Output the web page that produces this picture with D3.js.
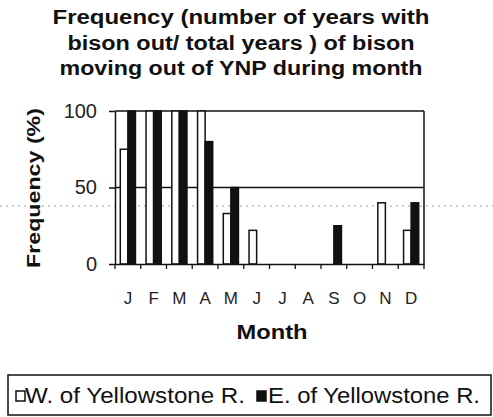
<!DOCTYPE html>
<html>
<head>
<meta charset="utf-8">
<script src="https://cdn.jsdelivr.net/npm/d3@7/dist/d3.min.js"></script>
<style>
  body { margin: 0; background: #fff; }
  svg { display: block; font-family: "Liberation Sans", Arial, sans-serif; }
</style>
</head>
<body>
<div id="chart"></div>
<script>
"use strict";

// data
var months = ["J", "F", "M", "A", "M", "J", "J", "A", "S", "O", "N", "D"];
var westValues = [75, 100, 100, 100, 33, 22, 0, 0, 0, 0, 40, 22];
var eastValues = [100, 100, 100, 80, 50, 0, 0, 0, 25, 0, 0, 40];
var seriesNames = ["W. of Yellowstone R.", "E. of Yellowstone R."];
var yTicks = [0, 50, 100];
var titleLines = [
  "Frequency (number of years with",
  "bison out/ total years ) of bison",
  "moving out of YNP during month"
];

var width = 493, height = 417;
var plot = { left: 115, right: 424, top: 111, bottom: 264 };

var svg = d3.select("#chart").append("svg")
  .attr("width", width)
  .attr("height", height);

// index months so the two J's etc. stay distinct
var x = d3.scaleBand()
  .domain(d3.range(months.length))
  .range([plot.left, plot.right])
  .padding(0);

var xSeries = d3.scaleBand()
  .domain([0, 1])
  .range([0, x.bandwidth()])
  .paddingInner(0)
  .paddingOuter(0.7);

var y = d3.scaleLinear()
  .domain([0, 100])
  .range([plot.bottom, plot.top]);

// scan artefact: faint dotted line across the page
svg.append("line")
  .attr("x1", 0).attr("x2", width)
  .attr("y1", 206).attr("y2", 206)
  .attr("stroke", "#9a9a9a")
  .attr("stroke-width", 1)
  .attr("stroke-dasharray", "2,4");

// title
svg.append("g").selectAll("text")
  .data(titleLines)
  .join("text")
  .attr("x", 241)
  .attr("y", function(d, i) { return [24, 50, 75][i]; })
  .attr("text-anchor", "middle")
  .attr("font-size", 20)
  .attr("font-weight", "bold")
  .attr("fill", "#111")
  .attr("textLength", function(d, i) { return [377, 347, 363][i]; })
  .attr("lengthAdjust", "spacingAndGlyphs")
  .text(function(d) { return d; });

// gridlines (50 and 100)
svg.append("g").selectAll("line")
  .data([50, 100])
  .join("line")
  .attr("x1", plot.left).attr("x2", plot.right)
  .attr("y1", function(d) { return y(d); })
  .attr("y2", function(d) { return y(d); })
  .attr("stroke", "#111")
  .attr("stroke-width", 1.5);

// right border of plot area
svg.append("line")
  .attr("x1", plot.right).attr("x2", plot.right)
  .attr("y1", plot.top).attr("y2", plot.bottom)
  .attr("stroke", "#111")
  .attr("stroke-width", 1.5);

// bars
var rows = months.map(function(m, i) {
  return { i: i, values: [westValues[i], eastValues[i]] };
});

var groups = svg.append("g").selectAll("g")
  .data(rows)
  .join("g")
  .attr("transform", function(d) { return "translate(" + x(d.i) + ",0)"; });

groups.selectAll("rect")
  .data(function(d) {
    return d.values.map(function(v, s) { return { s: s, v: v }; })
      .filter(function(e) { return e.v > 0; });
  })
  .join("rect")
  .attr("x", function(d) { return xSeries(d.s); })
  .attr("width", xSeries.bandwidth())
  .attr("y", function(d) { return y(d.v); })
  .attr("height", function(d) { return y(0) - y(d.v); })
  .attr("fill", function(d) { return d.s === 0 ? "#fff" : "#111"; })
  .attr("stroke", "#111")
  .attr("stroke-width", 1.5);

// y axis
var yAxis = svg.append("g")
  .attr("transform", "translate(" + plot.left + ",0)")
  .call(d3.axisLeft(y).tickValues(yTicks).tickSize(6).tickPadding(12).tickSizeOuter(0));
yAxis.select(".domain").attr("stroke", "#111").attr("stroke-width", 1.5);
yAxis.selectAll(".tick line").attr("stroke", "#111").attr("stroke-width", 1.5);
yAxis.selectAll(".tick text")
  .attr("font-size", 20)
  .attr("fill", "#222")
  .attr("font-family", "Liberation Sans, Arial, sans-serif");

// x axis: labels centred, ticks on band boundaries
var xAxis = svg.append("g")
  .attr("transform", "translate(0," + plot.bottom + ")")
  .call(d3.axisBottom(x).tickSize(0).tickPadding(28).tickFormat(function(i) { return months[i]; }));
xAxis.select(".domain").attr("stroke", "#111").attr("stroke-width", 1.5);
xAxis.selectAll(".tick text")
  .attr("font-size", 17)
  .attr("fill", "#222")
  .attr("font-family", "Liberation Sans, Arial, sans-serif");

svg.append("g").selectAll("line")
  .data(d3.range(months.length + 1))
  .join("line")
  .attr("x1", function(i) { return plot.left + i * x.step(); })
  .attr("x2", function(i) { return plot.left + i * x.step(); })
  .attr("y1", plot.bottom)
  .attr("y2", plot.bottom + 5)
  .attr("stroke", "#111")
  .attr("stroke-width", 1.3);

// axis titles
svg.append("text")
  .attr("x", 272)
  .attr("y", 339)
  .attr("text-anchor", "middle")
  .attr("font-size", 21)
  .attr("font-weight", "bold")
  .attr("fill", "#111")
  .attr("textLength", 71)
  .attr("lengthAdjust", "spacingAndGlyphs")
  .text("Month");

svg.append("text")
  .attr("transform", "translate(40,188) rotate(-90)")
  .attr("text-anchor", "middle")
  .attr("font-size", 19)
  .attr("font-weight", "bold")
  .attr("fill", "#111")
  .attr("textLength", 160)
  .attr("lengthAdjust", "spacingAndGlyphs")
  .text("Frequency (%)");

// legend
var legend = svg.append("g");
legend.append("rect")
  .attr("x", 8).attr("y", 375)
  .attr("width", 483).attr("height", 40)
  .attr("fill", "none")
  .attr("stroke", "#111")
  .attr("stroke-width", 1.5);

var legendItems = legend.selectAll("g")
  .data(seriesNames)
  .join("g")
  .attr("transform", function(d, i) { return "translate(" + [16, 257][i] + ",0)"; });

legendItems.append("rect")
  .attr("x", 0).attr("y", 391)
  .attr("width", 9).attr("height", 10)
  .attr("fill", function(d, i) { return i === 0 ? "#fff" : "#111"; })
  .attr("stroke", "#111")
  .attr("stroke-width", 1.5);

legendItems.append("text")
  .attr("x", function(d, i) { return i === 0 ? 9 : 11; })
  .attr("y", 403)
  .attr("font-size", 22)
  .attr("fill", "#111")
  .attr("textLength", function(d, i) { return [220, 212][i]; })
  .attr("lengthAdjust", "spacingAndGlyphs")
  .text(function(d) { return d; });
</script>
</body>
</html>
